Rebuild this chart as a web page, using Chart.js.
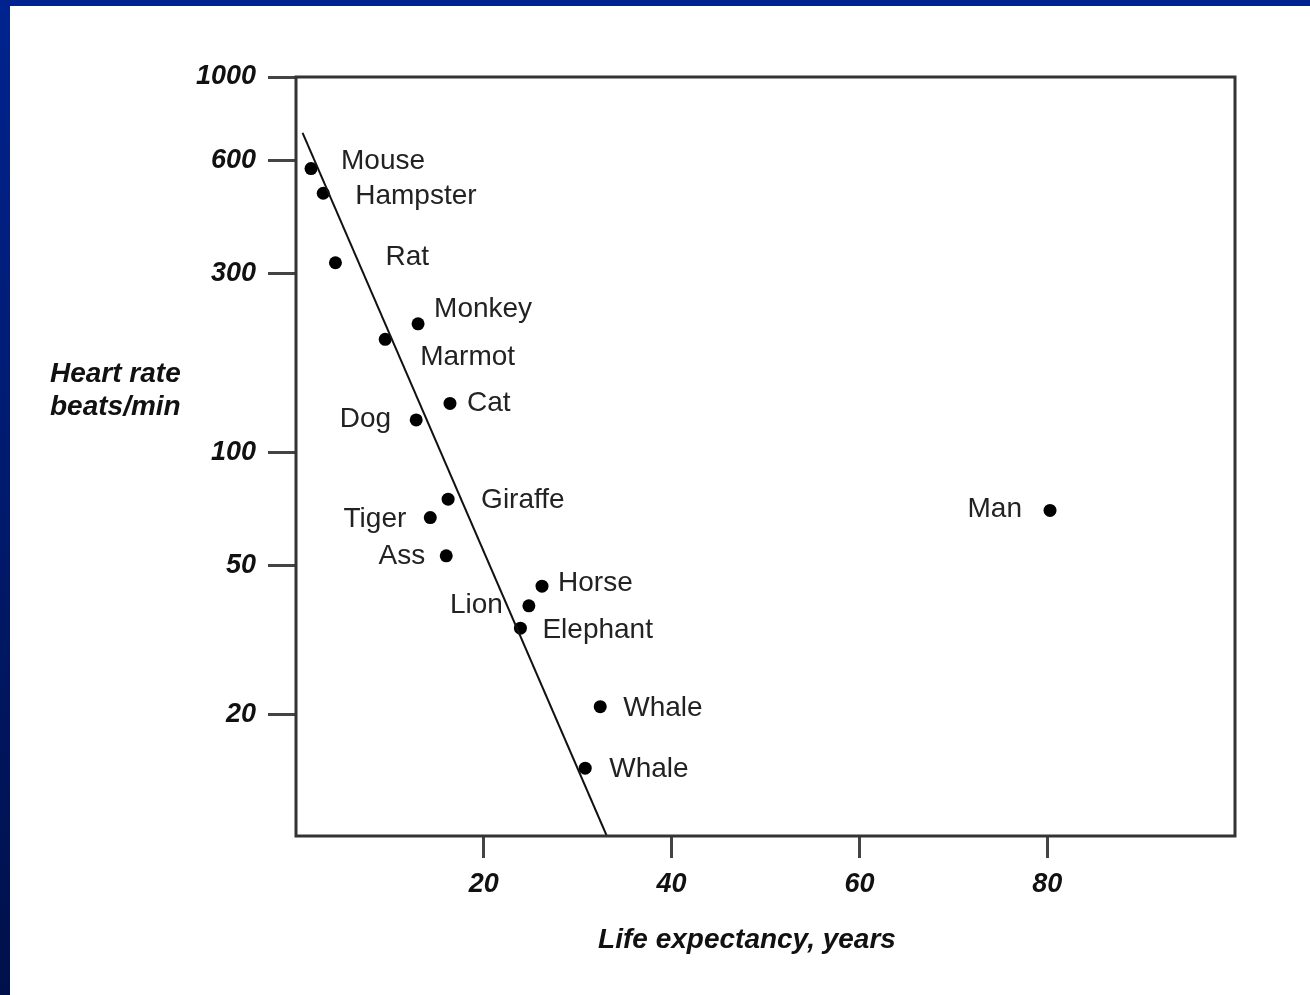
<!DOCTYPE html>
<html>
<head>
<meta charset="utf-8">
<script src="https://cdn.jsdelivr.net/npm/chart.js@4/dist/chart.umd.min.js"></script>
<style>
  html, body { margin: 0; padding: 0; background: #fff; }
  #wrap { position: relative; width: 1310px; height: 995px; overflow: hidden; }
  #chart { position: absolute; left: 0; top: 0; }
  .frameTop { position: absolute; left: 0; top: 0; width: 1310px; height: 6px; background: #002190; }
  .frameLeft { position: absolute; left: 0; top: 0; width: 10px; height: 995px;
    background: linear-gradient(#00238f, #00104a); }
</style>
</head>
<body>
<div id="wrap">
  <canvas id="chart" width="1310" height="995"></canvas>
  <div class="frameTop"></div>
  <div class="frameLeft"></div>
</div>
<script>
// data
const animals = ["Mouse", "Hampster", "Rat", "Monkey", "Marmot", "Cat", "Dog", "Giraffe",
  "Tiger", "Ass", "Horse", "Lion", "Elephant", "Whale", "Whale", "Man"];
const lifeYears = [1.6, 2.9, 4.2, 13.0, 9.5, 16.4, 12.8, 16.2, 14.3, 16.0, 26.2, 24.8, 23.9, 32.4, 30.8, 80.3];
const heartRate = [570, 490, 320, 220, 200, 135, 122, 75, 67, 53, 44, 39, 34, 21, 14.4, 70];

// fitted line (two ends)
const fitYears = [0.7, 33.1];
const fitRate = [710, 9.5];

const yTicks = [20, 50, 100, 300, 600, 1000];
const xTicks = [20, 40, 60, 80];

// label placement next to each dot: dx, dy, align
const labelPos = [
  [30, -7, "left"], [32, 3, "left"], [50, -5, "left"], [16, -15, "left"],
  [35, 18, "left"], [17, 0, "left"], [-25, -1, "right"], [33, 1, "left"],
  [-24, 2, "right"], [-21, 0, "right"], [16, -3, "left"], [-26, -1, "right"],
  [22, 2, "left"], [23, 2, "left"], [24, 1, "left"], [-28, -1, "right"]
];

const tickFont = { family: "Liberation Sans", size: 27, weight: "bold", style: "italic" };

const labelsPlugin = {
  id: "labels",
  afterDatasetsDraw(chart) {
    const ctx = chart.ctx;
    const a = chart.chartArea;
    ctx.save();
    // plot box
    ctx.strokeStyle = "#333";
    ctx.lineWidth = 3;
    ctx.strokeRect(a.left, a.top, a.right - a.left, a.bottom - a.top);

    // point names
    const meta = chart.getDatasetMeta(1);
    ctx.font = "28px 'Liberation Sans'";
    ctx.fillStyle = "#222";
    ctx.textBaseline = "middle";
    meta.data.forEach((pt, i) => {
      const p = labelPos[i];
      ctx.textAlign = p[2];
      ctx.fillText(animals[i], pt.x + p[0], pt.y + p[1]);
    });

    // axis titles
    ctx.font = "italic bold 28px 'Liberation Sans'";
    ctx.fillStyle = "#111";
    ctx.textAlign = "left";
    ctx.fillText("Heart rate", 50, 374);
    ctx.fillText("beats/min", 50, 407);
    ctx.textAlign = "center";
    ctx.fillText("Life expectancy, years", 747, 940);
    ctx.restore();
  }
};

new Chart(document.getElementById("chart"), {
  data: {
    datasets: [
      {
        type: "line",
        data: fitYears.map((x, i) => ({ x: x, y: fitRate[i] })),
        borderColor: "#111",
        borderWidth: 2,
        pointRadius: 0,
        fill: false
      },
      {
        type: "scatter",
        data: lifeYears.map((x, i) => ({ x: x, y: heartRate[i] })),
        backgroundColor: "#000",
        borderWidth: 0,
        pointRadius: 6.5
      }
    ]
  },
  options: {
    responsive: false,
    animation: false,
    layout: { padding: { top: 77, right: 75, left: 0, bottom: 0 } },
    plugins: {
      legend: { display: false },
      tooltip: { enabled: false }
    },
    scales: {
      x: {
        type: "linear",
        min: 0,
        max: 100,
        afterBuildTicks: s => { s.ticks = xTicks.map(v => ({ value: v })); },
        afterFit: s => { s.height = 159; },
        border: { display: false },
        grid: { drawOnChartArea: false, tickLength: 22, tickColor: "#444", tickWidth: 3 },
        ticks: { font: tickFont, color: "#111", padding: 10, maxRotation: 0 }
      },
      y: {
        type: "logarithmic",
        min: 9.5,
        max: 1000,
        afterBuildTicks: s => { s.ticks = yTicks.map(v => ({ value: v })); },
        afterFit: s => { s.width = 296; },
        border: { display: false },
        grid: { drawOnChartArea: false, tickLength: 28, tickColor: "#444", tickWidth: 3 },
        ticks: { font: tickFont, color: "#111", padding: 12, callback: v => String(v) }
      }
    }
  },
  plugins: [labelsPlugin]
});
</script>
</body>
</html>
